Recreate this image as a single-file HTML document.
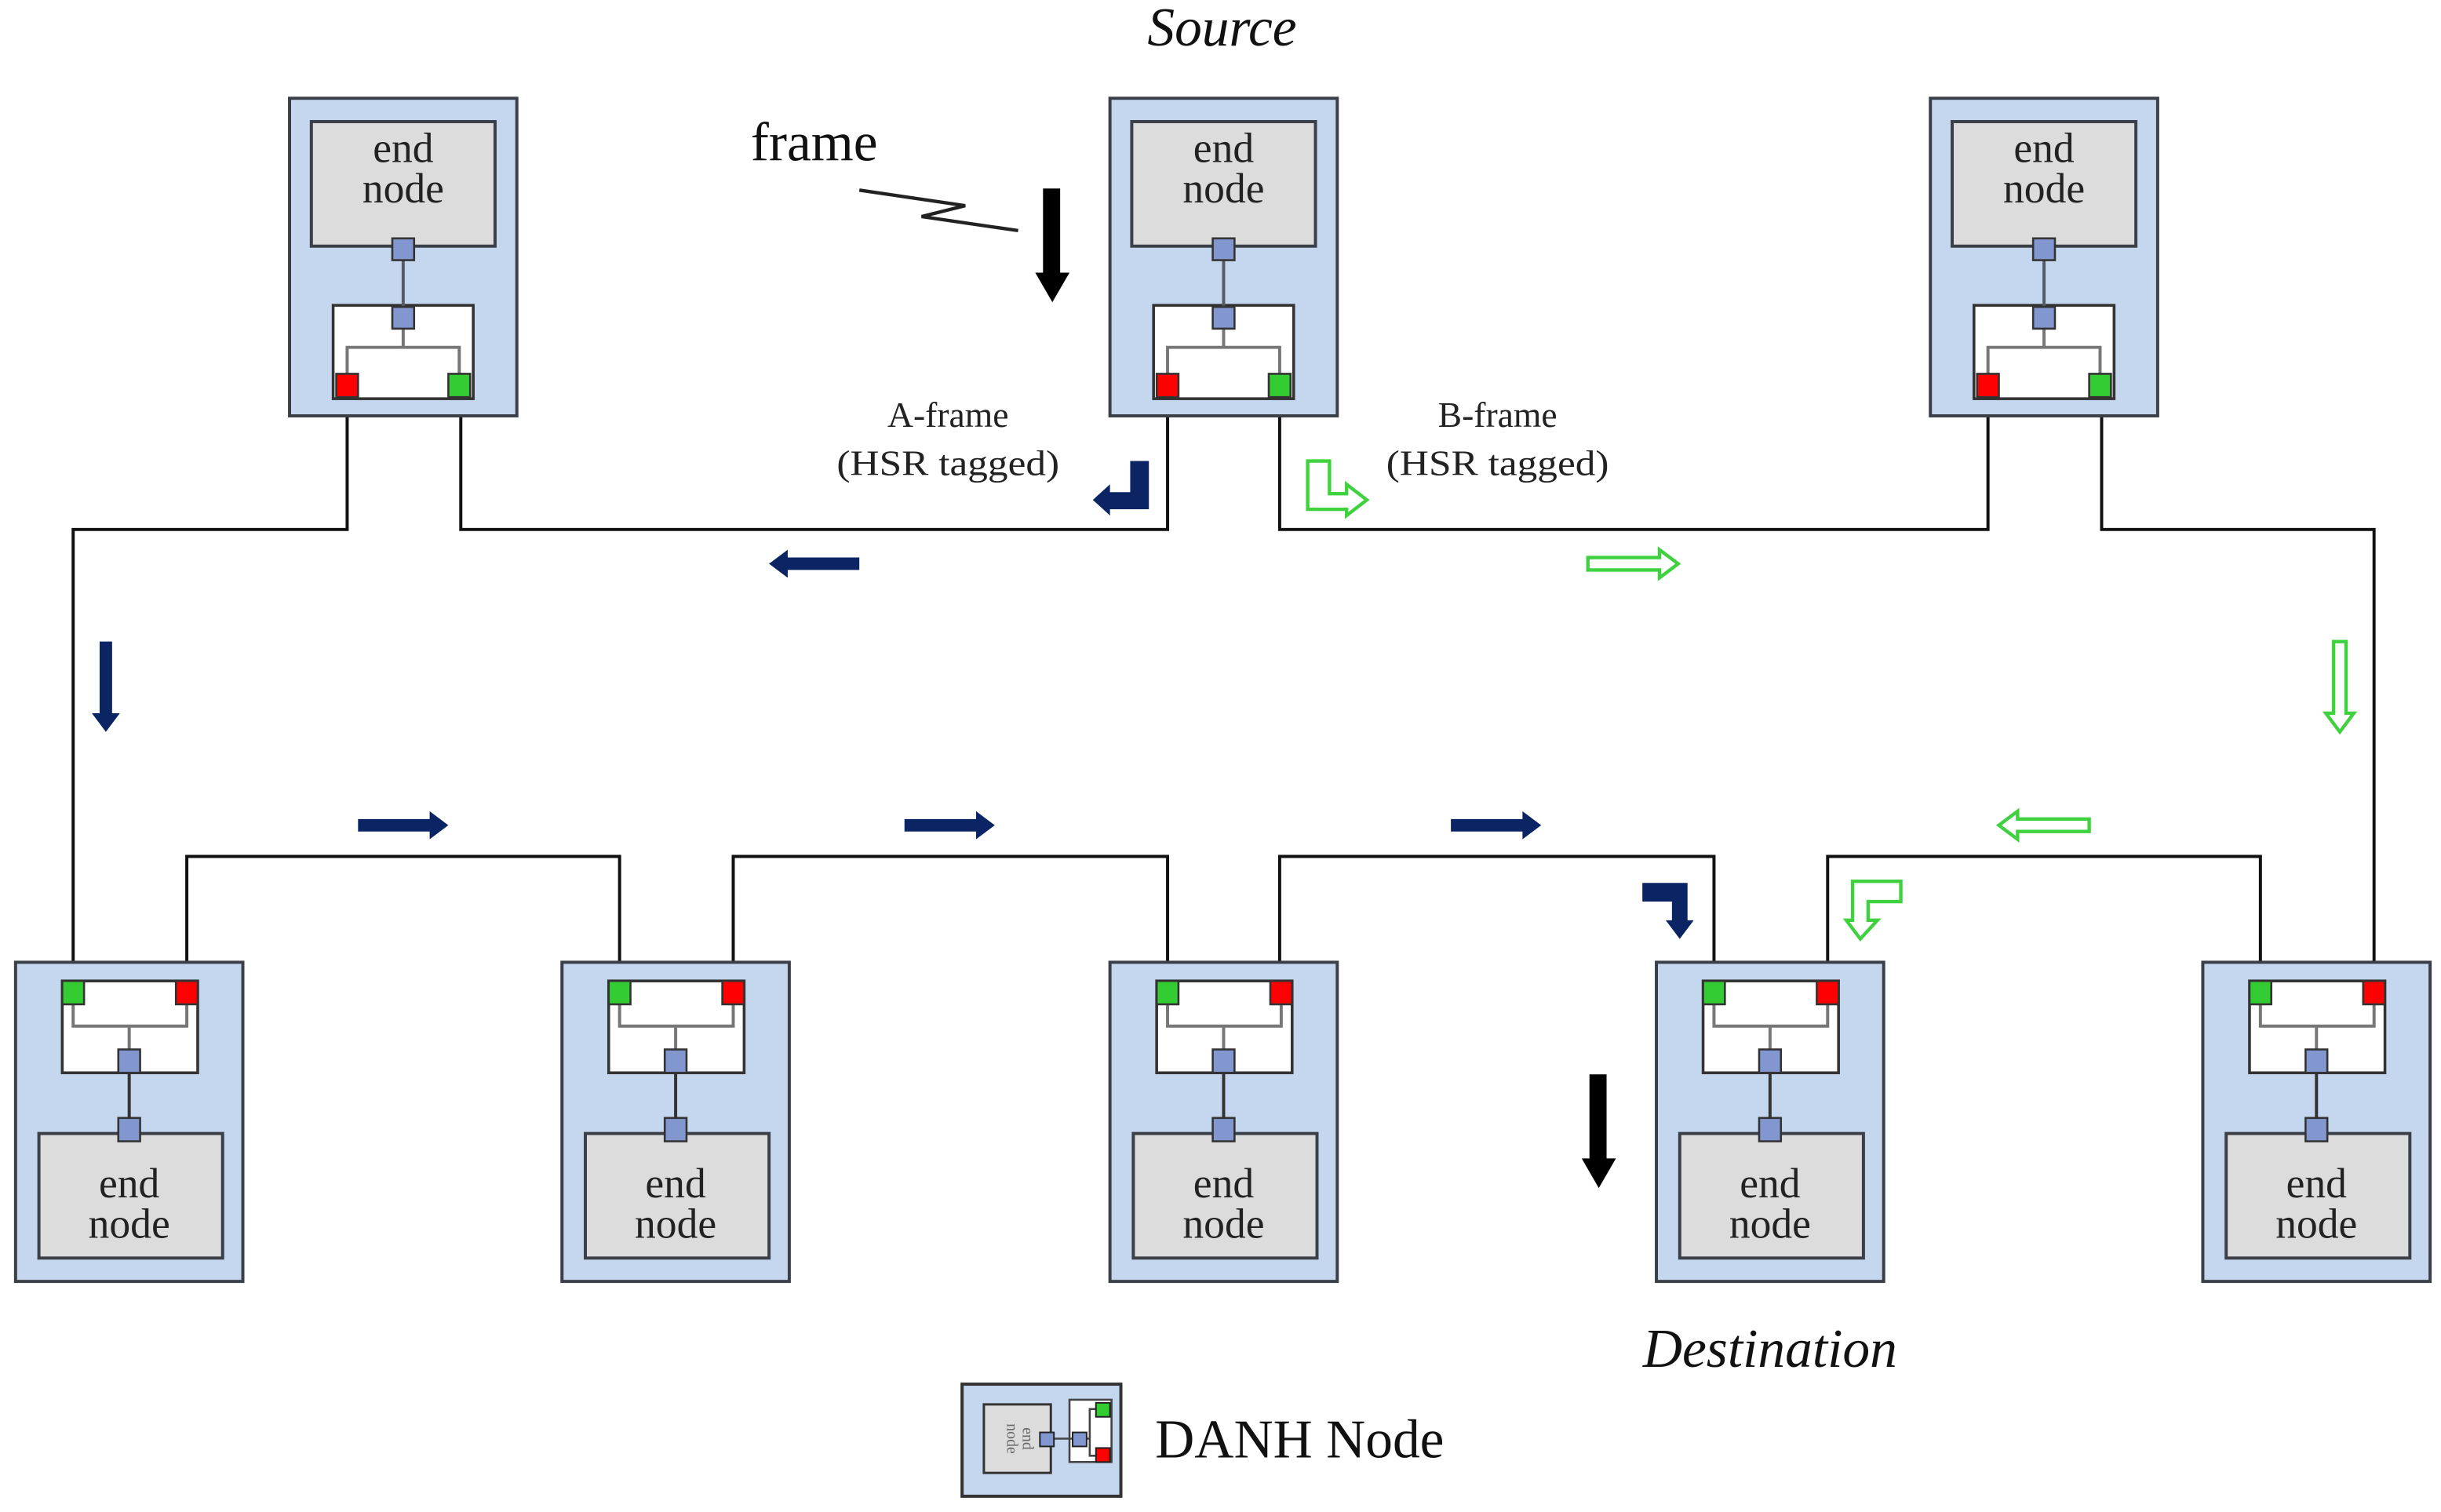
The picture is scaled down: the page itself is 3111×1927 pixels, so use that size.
<!DOCTYPE html>
<html><head><meta charset="utf-8"><style>html,body{margin:0;padding:0;background:#fff}svg{display:block}</style></head>
<body>
<svg width="3111" height="1927" viewBox="0 0 1568 971" xmlns="http://www.w3.org/2000/svg" font-family="'Liberation Serif', serif">
<defs>
<g id="top">
  <rect x="0" y="0" width="146" height="204" fill="#c5d7ee" stroke="#3a3f48" stroke-width="2"/>
  <rect x="14" y="15" width="118" height="80" fill="#dcdcdc" stroke="#3a3f48" stroke-width="2"/>
  <rect x="28" y="133" width="90" height="60" fill="#fff" stroke="#333" stroke-width="1.8"/>
  <line x1="73" y1="104" x2="73" y2="134" stroke="#555c66" stroke-width="2"/>
  <path d="M73 148 V160 M37 178 V160 H109 V178" fill="none" stroke="#777" stroke-width="2"/>
  <rect x="66" y="90" width="14" height="14" fill="#8297d0" stroke="#333" stroke-width="1.3"/>
  <rect x="66" y="134" width="14" height="14" fill="#8297d0" stroke="#333" stroke-width="1.3"/>
  <rect x="30" y="177" width="14" height="15" fill="#ff0000" stroke="#333" stroke-width="1.3"/>
  <rect x="102" y="177" width="14" height="15" fill="#33cc33" stroke="#333" stroke-width="1.3"/>
</g>
<g id="bot">
  <rect x="0" y="0" width="146" height="205" fill="#c5d7ee" stroke="#3a3f48" stroke-width="2"/>
  <rect x="30" y="12" width="87" height="59" fill="#fff" stroke="#333" stroke-width="1.8"/>
  <path d="M37 20 V41 H110 V20 M73 41 V56" fill="none" stroke="#777" stroke-width="2"/>
  <line x1="73" y1="70" x2="73" y2="102" stroke="#333" stroke-width="2"/>
  <rect x="15" y="110" width="118" height="80" fill="#dcdcdc" stroke="#3a3f48" stroke-width="2"/>
  <rect x="30" y="12" width="14" height="15" fill="#33cc33" stroke="#333" stroke-width="1.3"/>
  <rect x="103" y="12" width="14" height="15" fill="#ff0000" stroke="#333" stroke-width="1.3"/>
  <rect x="66" y="56" width="14" height="15" fill="#8297d0" stroke="#333" stroke-width="1.3"/>
  <rect x="66" y="100" width="14" height="15" fill="#8297d0" stroke="#333" stroke-width="1.3"/>
</g>
<path id="ar" d="M-29,-4 H17 V-9 L29,0 L17,9 V4 H-29 Z"/>
</defs>

<g fill="none" stroke="#111" stroke-width="2">
  <path d="M223 255 V340 H47 V618"/>
  <path d="M296 255 V340 H750 V255"/>
  <path d="M822 255 V340 H1277 V255"/>
  <path d="M1350 255 V340 H1525 V618"/>
  <path d="M120 618 V550 H398 V618"/>
  <path d="M471 618 V550 H750 V618"/>
  <path d="M822 618 V550 H1101 V618"/>
  <path d="M1174 618 V550 H1452 V618"/>
</g>

<use href="#top" x="186" y="63"/>
<use href="#top" x="713" y="63"/>
<use href="#top" x="1240" y="63"/>
<use href="#bot" x="10" y="618"/>
<use href="#bot" x="361" y="618"/>
<use href="#bot" x="713" y="618"/>
<use href="#bot" x="1064" y="618"/>
<use href="#bot" x="1415" y="618"/>

<g font-size="27" fill="#222" text-anchor="middle">
  <text x="259" y="104">end</text><text x="259" y="130">node</text>
  <text x="786" y="104">end</text><text x="786" y="130">node</text>
  <text x="1313" y="104">end</text><text x="1313" y="130">node</text>
  <text x="83" y="769">end</text><text x="83" y="795">node</text>
  <text x="434" y="769">end</text><text x="434" y="795">node</text>
  <text x="786" y="769">end</text><text x="786" y="795">node</text>
  <text x="1137" y="769">end</text><text x="1137" y="795">node</text>
  <text x="1488" y="769">end</text><text x="1488" y="795">node</text>
</g>

<text x="785" y="29" font-size="35" font-style="italic" text-anchor="middle" fill="#111">Source</text>
<text x="523" y="103" font-size="35" text-anchor="middle" fill="#111">frame</text>
<path d="M552 122 L620 132 L592 139 L654 148" fill="none" stroke="#222" stroke-width="2.2"/>
<text x="609" y="274" font-size="23" text-anchor="middle" fill="#222">A-frame</text>
<text x="609" y="305" font-size="23" text-anchor="middle" fill="#222" textLength="143" lengthAdjust="spacingAndGlyphs">(HSR tagged)</text>
<text x="962" y="274" font-size="23" text-anchor="middle" fill="#222">B-frame</text>
<text x="962" y="305" font-size="23" text-anchor="middle" fill="#222" textLength="143" lengthAdjust="spacingAndGlyphs">(HSR tagged)</text>
<text x="1137" y="878" font-size="35" font-style="italic" text-anchor="middle" fill="#111">Destination</text>

<path d="M670 121 H681 V175 H687 L676 194 L665 175 H670 Z" fill="#000"/>
<path d="M1021 690 H1032 V744 H1038 L1027 763 L1016 744 H1021 Z" fill="#000"/>

<g fill="#0b2463">
  <use href="#ar" transform="translate(523,362) rotate(180)"/>
  <use href="#ar" transform="translate(68,441) rotate(90)"/>
  <use href="#ar" transform="translate(259,530)"/>
  <use href="#ar" transform="translate(610,530)"/>
  <use href="#ar" transform="translate(961,530)"/>
  <path d="M726 296 H738 V327 H713 V331 L702 321 L713 311 V316 H726 Z"/>
  <path d="M1055 567 H1084 V591 H1088 L1079 603 L1070 591 H1074 V579 H1055 Z"/>
</g>
<g fill="none" stroke="#3fd13f" stroke-width="2.2">
  <use href="#ar" transform="translate(1049,362)"/>
  <use href="#ar" transform="translate(1503,441) rotate(90)"/>
  <use href="#ar" transform="translate(1313,530) rotate(180)"/>
  <path d="M840 296 H854 V317 H865 V311 L878 321 L865 331 V327 H840 Z"/>
  <path d="M1221 566 V579 H1200 V591 H1206 L1195 603 L1186 591 H1190 V566 Z"/>
</g>

<rect x="618" y="889" width="102" height="72" fill="#c5d7ee" stroke="#333" stroke-width="2"/>
<rect x="632" y="902" width="43" height="44" fill="#dcdcdc" stroke="#333" stroke-width="1.5"/>
<text transform="translate(657,924) rotate(90)" font-size="10" text-anchor="middle" fill="#666">end</text>
<text transform="translate(647,924) rotate(90)" font-size="10" text-anchor="middle" fill="#666">node</text>
<rect x="687" y="899" width="27" height="40" fill="#fff" stroke="#444" stroke-width="1.3"/>
<path d="M674 924 H700 M704 905 H700 V935 H704" fill="none" stroke="#444" stroke-width="1.3"/>
<rect x="668" y="920" width="9" height="9" fill="#8297d0" stroke="#222" stroke-width="1"/>
<rect x="689" y="920" width="9" height="9" fill="#8297d0" stroke="#222" stroke-width="1"/>
<rect x="704" y="901" width="9" height="9" fill="#33cc33" stroke="#222" stroke-width="1"/>
<rect x="704" y="930" width="9" height="9" fill="#ff0000" stroke="#222" stroke-width="1"/>
<text x="742" y="936" font-size="35" fill="#111">DANH Node</text>
</svg>
</body></html>
